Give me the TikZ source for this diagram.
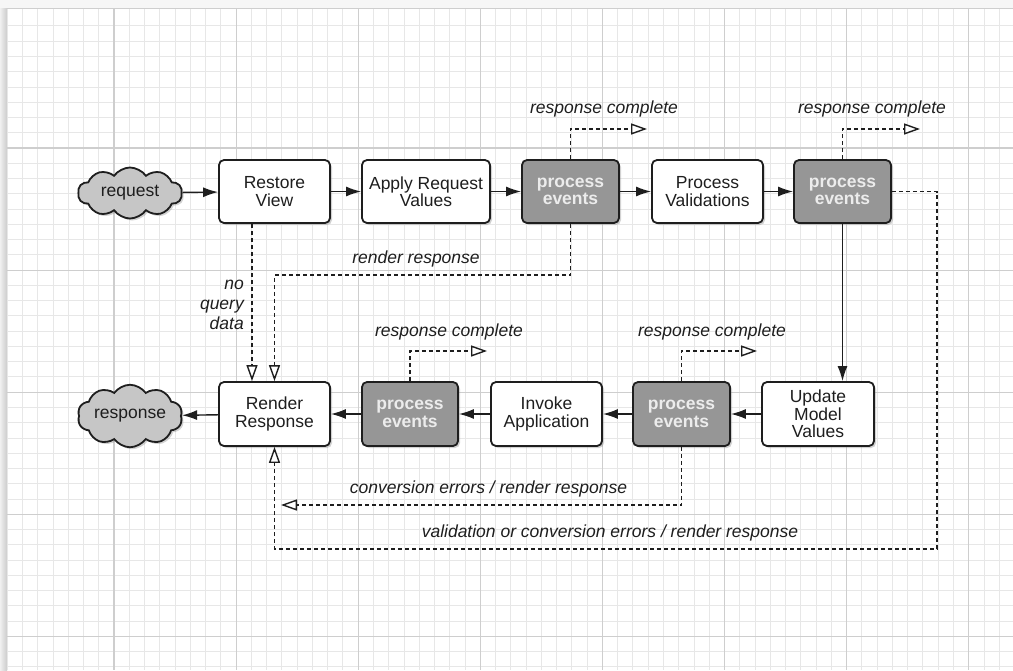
\documentclass[tikz,border=0pt]{standalone}
\usepackage{fontspec}
\setmainfont{Liberation Sans}
\usetikzlibrary{arrows.meta,shapes.symbols,shadows,calc}
\definecolor{pegray}{RGB}{150,150,150}
\definecolor{petext}{RGB}{236,236,236}
\definecolor{cloudgray}{RGB}{198,198,198}
\definecolor{minorgrid}{RGB}{231,231,231}
\definecolor{majorgrid}{RGB}{206,206,206}
\definecolor{ink}{RGB}{30,30,30}
\begin{document}
\begin{tikzpicture}[x=1pt,y=-1pt,
  minor/.style={draw=minorgrid, line width=0.9pt},
  major/.style={draw=majorgrid, line width=1.1pt},
  basebox/.style={draw=ink, line width=1.8pt, rounded corners=5pt, minimum height=63pt,
    align=center, inner sep=0pt, font=\fontsize{17.5}{17.5}\selectfont,
    drop shadow={opacity=0.35, shadow xshift=2pt, shadow yshift=-2pt}},
  whitebox/.style={basebox, fill=white, text=ink},
  pebox/.style={basebox, fill=pegray, text=petext, font=\fontsize{17.5}{17.5}\selectfont\bfseries},
  blob/.style={cloud, cloud puffs=10, cloud puff arc=110, aspect=2.1, draw=ink, fill=cloudgray,
    line width=1.8pt, minimum width=104pt, minimum height=51pt, inner sep=0pt,
    font=\fontsize{17.5}{17.5}\selectfont, text=ink,
    drop shadow={opacity=0.35, shadow xshift=2pt, shadow yshift=-2pt}},
  lbl/.style={font=\fontsize{17.5}{20}\selectfont\itshape, text=ink, inner sep=0pt},
  sarrow/.style={draw=ink, line width=1.4pt, -{Latex[length=15pt,width=10pt]}},
  darrow/.style={draw=ink, line width=1.4pt, dash pattern=on 4pt off 3pt,
    -{Triangle[open,length=16pt,width=11pt,fill=white]}}
]
\useasboundingbox (0,0) rectangle (1013,670);
% paper and background
\fill[gray!7] (0,0) rectangle (1013,670);
\shade[left color=gray!12, right color=gray!40] (0,8) rectangle (7,670);
\fill[white] (7,8) rectangle (1013,670);
% grid
\foreach \k in {-7,...,58} \draw[minor] ({114+15.2625*\k},8) -- ({114+15.2625*\k},670);
\foreach \k in {-8,...,34} \draw[minor] (7,{148+15.2625*\k}) -- (1013,{148+15.2625*\k});
\foreach \k in {0,...,7} \draw[major] ({114+122.1*\k},8) -- ({114+122.1*\k},670);
\foreach \k in {0,...,4} \draw[major] (7,{148+122.1*\k}) -- (1013,{148+122.1*\k});
\draw[majorgrid, line width=0.8pt] (7,8) -- (1013,8);

% nodes top row
\node[blob] (req) at (130,193) {request};
\node[whitebox, minimum width=111pt] (rv) at (274.5,191.5) {Restore\\View};
\node[whitebox, minimum width=128pt] (arv) at (426,191.5) {Apply Request\\Values};
\node[pebox, minimum width=97pt] (pe1) at (570.5,191.5) {process\\events};
\node[whitebox, minimum width=111pt] (pv) at (707.5,191.5) {Process\\Validations};
\node[pebox, minimum width=97pt] (pe2) at (842.5,191.5) {process\\events};
% bottom row
\node[whitebox, minimum width=112pt, minimum height=64pt] (umv) at (818,414) {Update\\Model\\Values};
\node[pebox, minimum width=97pt, minimum height=64pt] (pe3) at (681.5,414) {process\\events};
\node[whitebox, minimum width=111pt, minimum height=64pt] (ia) at (546.5,414) {Invoke\\Application};
\node[pebox, minimum width=96pt, minimum height=64pt] (pe4) at (410,414) {process\\events};
\node[whitebox, minimum width=111pt, minimum height=64pt] (rr) at (274.5,414) {Render\\Response};
\node[blob] (resp) at (130,416) {response};

% solid arrows
\draw[sarrow] (req) -- (rv);
\draw[sarrow] (rv) -- (arv);
\draw[sarrow] (arv) -- (pe1);
\draw[sarrow] (pe1) -- (pv);
\draw[sarrow] (pv) -- (pe2);
\draw[sarrow] (pe2.south) -- (pe2.south |- umv.north);
\draw[sarrow] (umv) -- (pe3);
\draw[sarrow] (pe3) -- (ia);
\draw[sarrow] (ia) -- (pe4);
\draw[sarrow] (pe4) -- (rr);
\draw[sarrow] (rr) -- (resp);

% response complete branches
\coordinate (rc1) at (647,129);
\coordinate (rc2) at (920,129);
\coordinate (rc3) at (487,351);
\coordinate (rc4) at (757,351);
\draw[darrow] (pe1.north) |- (rc1);
\draw[darrow] (pe2.north) |- (rc2);
\draw[darrow] (pe4.north) |- (rc3);
\draw[darrow] (pe3.north) |- (rc4);
\node[lbl] (lrc1) at (604,109) {response complete};
\node[lbl] (lrc2) at (872,109) {response complete};
\node[lbl] (lrc3) at (449,332) {response complete};
\node[lbl] (lrc4) at (712,332) {response complete};

% no query data
\draw[darrow] ($(rv.south)+(-22.5,0)$) -- ($(rr.north)+(-22.5,0)$);
\node[lbl, align=right, anchor=east] (nqd) at (244,305) {no\\query\\data};

% render response
\coordinate (rrb) at (0,275);
\draw[darrow] (pe1.south) |- (rr.north |- rrb) -- (rr.north);
\node[lbl] (lrr) at (416,259) {render response};

% conversion errors
\coordinate (conv) at (281,505);
\draw[darrow] (pe3.south) |- (conv);
\node[lbl] (lconv) at (488.5,489) {conversion errors / render response};

% validation loop
\coordinate (loopc) at (937,549);
\draw[darrow] (pe2.east) -| (loopc) -| (rr.south);
\node[lbl] (lval) at (610,533) {validation or conversion errors / render response};
\end{tikzpicture}
\end{document}
